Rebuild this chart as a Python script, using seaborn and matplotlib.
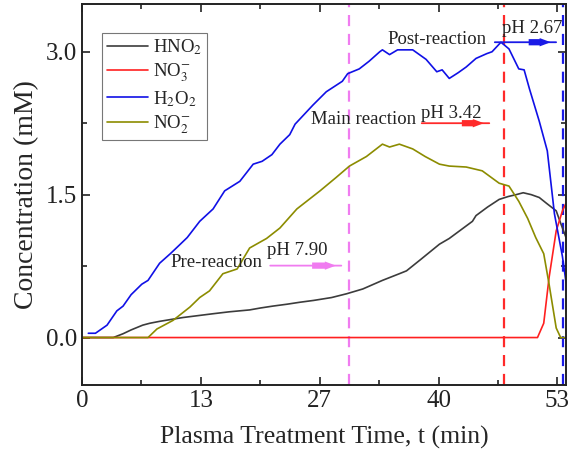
"""Concentration of HNO2, NO3-, H2O2 and NO2- over plasma treatment time."""

import numpy as np
import pandas as pd
import matplotlib

matplotlib.use("Agg")
import matplotlib.pyplot as plt
import seaborn as sns

# ---- data ----
hno2_t = [0, 3.5, 4.6, 5.5, 6.8, 7.6, 8.7, 10, 11.3, 13, 14.7, 16.5, 18.8, 20, 21.4,
          23, 24.4, 26, 28, 29.7, 31.5, 33.7, 35.6, 36.4, 38, 40.1, 41.2, 42.5, 43.8,
          44.2, 45.5, 46.8, 47.8, 48.7, 49.5, 50.4, 51.3, 52.1, 53.2, 53.7, 54.3]
hno2_c = [0, 0, 0.04, 0.08, 0.13, 0.15, 0.17, 0.19, 0.21, 0.23, 0.25, 0.27, 0.29, 0.31,
          0.33, 0.35, 0.37, 0.39, 0.42, 0.46, 0.51, 0.60, 0.67, 0.70, 0.82, 0.98, 1.04,
          1.13, 1.22, 1.28, 1.37, 1.45, 1.48, 1.50, 1.52, 1.50, 1.47, 1.41, 1.33, 1.20, 1.05]

no3_t = [0, 51.1, 51.8, 52.4, 53.2, 53.9, 54.3]
no3_c = [0, 0, 0.15, 0.63, 1.12, 1.33, 1.41]

h2o2_t = [0.7, 1.5, 2.8, 3.9, 4.6, 5.5, 6.7, 7.4, 8.7, 9.9, 10.8, 11.8, 13.2, 14.7, 16,
          17.7, 19.2, 20.2, 21.3, 22.2, 23.3, 23.9, 25.9, 27.4, 29.2, 29.8, 31.1, 32.2,
          33.4, 33.7, 34.5, 35.4, 37.1, 38.6, 39.8, 40.4, 41.2, 42.2, 43.1, 44.2, 45.4,
          46.0, 46.8, 47.0, 47.9, 49.0, 49.6, 50.2, 51.3, 52.2, 53.0, 53.9, 54.3]
h2o2_c = [0.045, 0.045, 0.13, 0.28, 0.33, 0.45, 0.56, 0.60, 0.78, 0.88, 0.96, 1.05, 1.22,
          1.35, 1.54, 1.64, 1.82, 1.85, 1.92, 2.03, 2.13, 2.24, 2.44, 2.58, 2.69, 2.77,
          2.82, 2.90, 3.00, 3.02, 2.97, 3.02, 3.02, 2.92, 2.79, 2.81, 2.72, 2.78, 2.84,
          2.93, 2.98, 3.00, 3.08, 3.10, 3.03, 2.82, 2.81, 2.61, 2.27, 1.96, 1.30, 0.85, 0.58]

no2_t = [0, 7.4, 8.4, 10.2, 12.1, 13.2, 14.3, 15.8, 17.4, 18.8, 20.7, 22.2, 24.1, 26.7,
         28.5, 30.0, 31.9, 33.7, 34.5, 35.6, 37.1, 38.5, 40.1, 41.2, 43.1, 44.9, 46.8,
         47.9, 49.0, 50.0, 50.9, 51.8, 52.4, 53.2, 53.7, 54.3]
no2_c = [0, 0, 0.09, 0.18, 0.32, 0.42, 0.49, 0.67, 0.72, 0.94, 1.04, 1.15, 1.35, 1.54,
         1.68, 1.80, 1.90, 2.03, 2.00, 2.03, 1.98, 1.90, 1.82, 1.80, 1.79, 1.75, 1.62,
         1.59, 1.43, 1.25, 1.05, 0.88, 0.56, 0.10, 0, 0]

species = ["HNO$_2$", "NO$_3^{-}$", "H$_2$O$_2$", "NO$_2^{-}$"]
colors = ["#3c3c3c", "#ff2020", "#1010e6", "#8c8c00"]

stage_times = [30.0, 47.3, 53.95]
stage_colors = ["#f07cf0", "#ff2a2a", "#1a1ae6"]
stage_names = ["Pre-reaction", "Main reaction", "Post-reaction"]
stage_ph = ["pH 7.90", "pH 3.42", "pH 2.67"]

xtick_vals = [0, 40 / 3, 80 / 3, 40, 160 / 3]
xtick_labels = ["0", "13", "27", "40", "53"]
ytick_vals = [0.0, 1.5, 3.0]

# ---- long table for seaborn ----
frames = []
for name, t, c in zip(species, [hno2_t, no3_t, h2o2_t, no2_t],
                      [hno2_c, no3_c, h2o2_c, no2_c]):
    frames.append(pd.DataFrame({"t": t, "conc": c, "species": name}))
df = pd.concat(frames, ignore_index=True)

sns.set_style("ticks")
plt.rcParams["font.family"] = ["Liberation Serif", "DejaVu Serif"]
plt.rcParams["mathtext.fontset"] = "stix"

fig = plt.figure(figsize=(5.7, 4.58), dpi=100)
ax = fig.add_axes([0.144, 0.159, 0.849, 0.832])

sns.lineplot(data=df, x="t", y="conc", hue="species", hue_order=species,
             palette=dict(zip(species, colors)), estimator=None, sort=False,
             linewidth=1.2, ax=ax)

# stage boundaries
for xv, col in zip(stage_times, stage_colors):
    ax.axvline(xv, color=col, linestyle=(0, (5, 3.5)), linewidth=1.6, zorder=1)

# stage arrows: thin line with a block head, Origin style
arrow_spans = [(20.8, 25.5, 29.4, 0.755), (37.8, 42.3, 46.0, 2.25), (46.0, 49.8, 53.5, 3.10)]
for (x0, xm, x1, yv), col in zip(arrow_spans, stage_colors):
    ax.annotate("", xy=(x1, yv), xytext=(x0, yv),
                arrowprops=dict(arrowstyle="-", color=col, lw=1.3))
    ax.annotate("", xy=(x1 - 0.6, yv), xytext=(xm, yv),
                arrowprops=dict(arrowstyle="simple,head_length=0.8,head_width=0.6,tail_width=0.45",
                                color=col, lw=0))

name_pos = [(9.9, 0.79), (25.7, 2.29), (34.3, 3.13)]
ph_pos = [(20.8, 0.91), (38.0, 2.35), (47.1, 3.24)]
for (x, y), txt in zip(name_pos, stage_names):
    ax.text(x, y, txt, fontsize=13.5, va="center", ha="left", color="#222222")
for (x, y), txt in zip(ph_pos, stage_ph):
    ax.text(x, y, txt, fontsize=13.5, va="center", ha="left", color="#222222")

ax.set_xlim(0, 54.3)
ax.set_ylim(-0.5, 3.5)
ax.set_xticks(xtick_vals)
ax.set_xticklabels(xtick_labels)
ax.set_xticks([v + 20 / 3 for v in xtick_vals[:-1]], minor=True)
ax.set_yticks(ytick_vals)
ax.set_yticklabels([f"{v:.1f}" for v in ytick_vals])
ax.set_yticks([0.75, 2.25], minor=True)
ax.tick_params(which="both", direction="in", top=True, right=True, labelsize=18,
               width=1.2, colors="#222222")
ax.tick_params(which="major", length=6)
ax.tick_params(which="minor", length=3.5)
for sp in ax.spines.values():
    sp.set_linewidth(1.4)
    sp.set_color("#222222")

ax.set_xlabel("Plasma Treatment Time, t (min)", fontsize=18.5, labelpad=10)
ax.set_ylabel("Concentration (mM)", fontsize=20, labelpad=5)

handles, labels = ax.get_legend_handles_labels()
leg = ax.legend(handles, labels, loc="upper left", bbox_to_anchor=(0.041, 0.925),
                fontsize=13.5, frameon=True, fancybox=False, borderpad=0.25,
                handlelength=2.2, handletextpad=0.3, labelspacing=0.25, borderaxespad=0)
leg.get_frame().set_edgecolor("#555555")
leg.get_frame().set_linewidth(0.8)

fig.savefig("out.png", dpi=100)
